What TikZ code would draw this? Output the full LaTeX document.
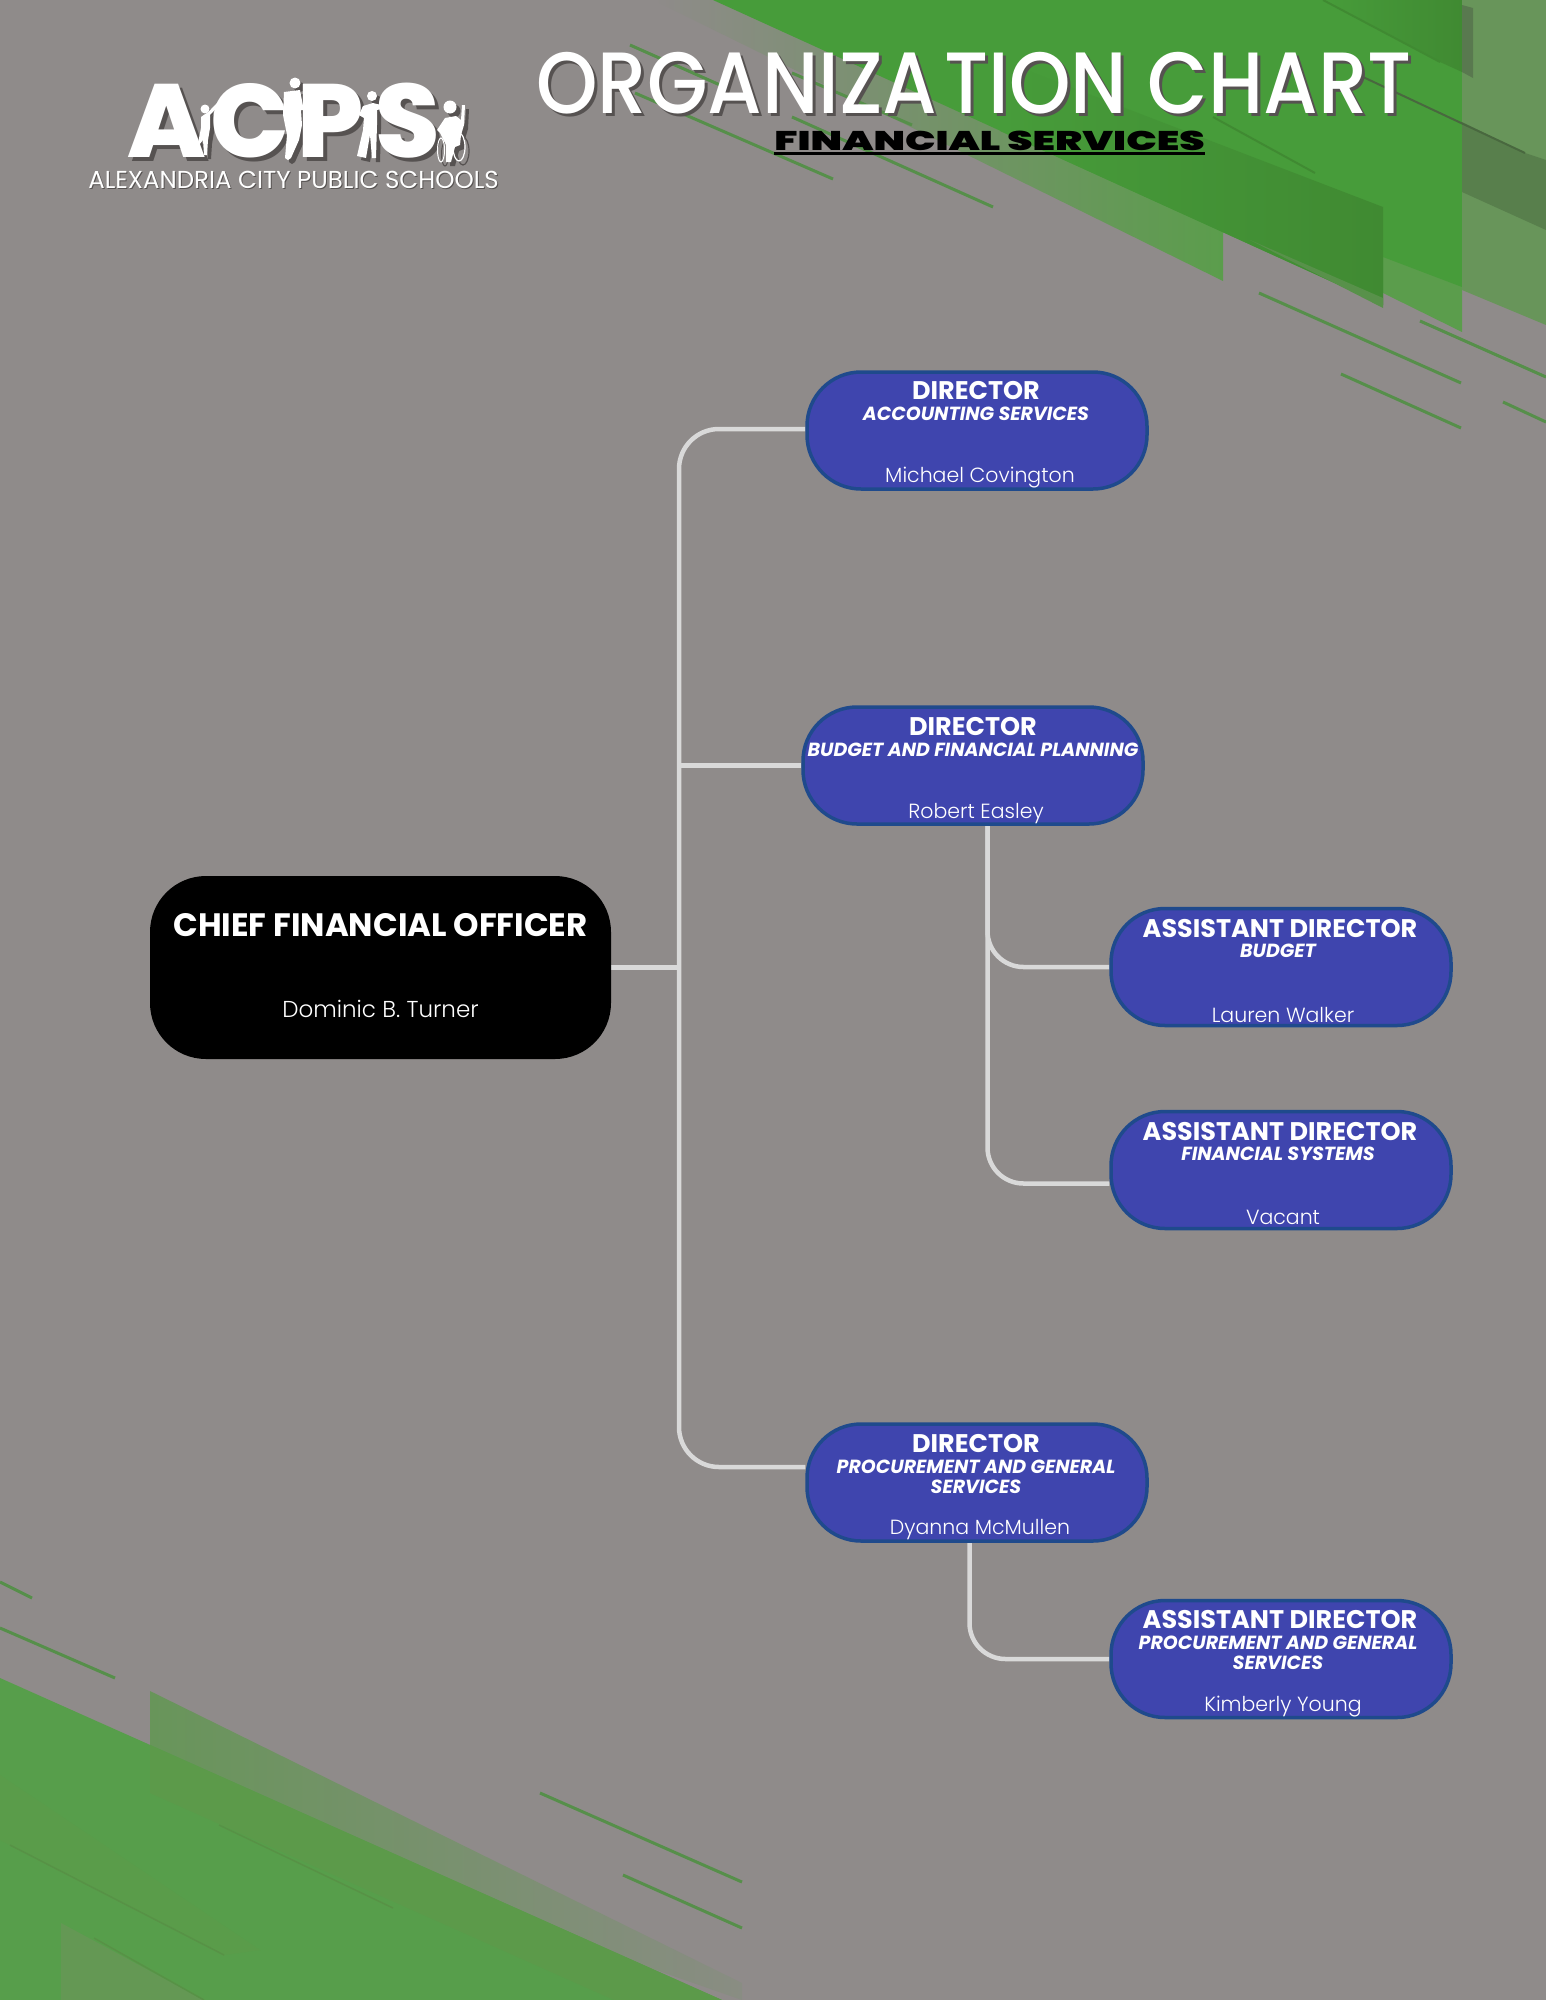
\documentclass[tikz,border=0pt]{standalone}
\usepackage{fontspec}
\setmainfont{Poppins}
\newfontfamily\poplight{Poppins Light}
\newfontfamily\popmedium{Poppins Medium}
\newfontfamily\popextra{Poppins ExtraBold}
\newfontfamily\popblack{Poppins Black}
\definecolor{pagegrey}{HTML}{8F8B8A}
\definecolor{maingreen}{HTML}{479C3A}
\definecolor{darkgreen}{HTML}{408A32}
\definecolor{lightgreen}{HTML}{5B9D4C}
\definecolor{panegreen}{HTML}{68955A}
\definecolor{lowgreen}{HTML}{579E4B}
\definecolor{lowdark}{HTML}{5C9A4A}
\definecolor{linegreen}{HTML}{568F4A}
\definecolor{boxblue}{HTML}{3F45AE}
\definecolor{boxedge}{HTML}{1F4A8C}
\definecolor{connline}{HTML}{D9D9D9}
\definecolor{logoshade}{HTML}{565251}
\pgfdeclarelayer{decor}
\pgfdeclarelayer{links}
\pgfsetlayers{decor,links,main}
\tikzset{
	bluebox/.style={draw=boxedge, line width=3.5pt, fill=boxblue, rounded corners=54pt, minimum width=340pt, minimum height=117pt, inner sep=0pt},
	blackbox/.style={fill=black, rounded corners=56pt, minimum width=461pt, minimum height=183pt, inner sep=0pt},
	conn/.style={draw=connline, line width=4.5pt},
	stripe/.style={draw=linegreen, line width=3pt},
	titletxt/.style={text=white, font=\fontsize{25.5}{29}\selectfont\bfseries, inner sep=0pt},
	subtxt/.style={text=white, font=\fontsize{19}{22}\selectfont\bfseries\itshape, inner sep=0pt},
	nametxt/.style={text=white, font=\fontsize{20.5}{25}\selectfont\poplight, inner sep=0pt},
	bigtxt/.style={anchor=base west, inner sep=0pt, font=\fontsize{87}{90}\selectfont\popmedium},
	logotxt/.style={anchor=base, inner sep=0pt, font=\fontsize{104}{104}\selectfont\popextra},
}
\begin{document}
\begin{tikzpicture}[x=1pt, y=-1pt]
	\useasboundingbox (0,0) rectangle (1546,2000);
	\begin{pgfonlayer}{decor}
		\fill[pagegrey] (0,0) rectangle (1546,2000);

		\shade[left color=pagegrey, right color=lightgreen, middle color=panegreen!70!pagegrey] (653,0) -- (1223,281) -- (1223,100) -- (1000,0) -- cycle;
		\fill[lightgreen] (1383,293) -- (1462,332) -- (1462,0) -- (1383,0) -- cycle;
		\fill[maingreen] (713,0) -- (1383,305) -- (1383,257) -- (1462,287) -- (1462,0) -- cycle;
		\shade[left color=maingreen, right color=darkgreen] (1000,60) -- (1383,207) -- (1383,305) -- (1000,131) -- cycle;
		\fill[panegreen!60!darkgreen] (1383,308) -- (1383,298) -- (1250,240) -- cycle;
		\shade[left color=maingreen, right color=darkgreen] (1323,0) -- (1440,62) -- (1462,72) -- (1462,0) -- cycle;
		\fill[panegreen] (1462,0) -- (1546,0) -- (1546,325) -- (1462,290) -- cycle;
		\fill[panegreen!85!black] (1462,122) -- (1525,153) -- (1546,160) -- (1546,230) -- (1462,192) -- cycle;
		\fill[panegreen!80!black!90!pagegrey] (1462,5) -- (1473,8) -- (1473,78) -- (1462,72) -- cycle;
		\draw[darkgreen, line width=2pt] (1213,117) -- (1315,173);
		\draw[darkgreen, line width=2pt] (1323,0) -- (1440,62);
		\draw[panegreen!70!black, line width=2pt] (1363,77) -- (1525,153);

		\draw[stripe] (630,45) -- (720,85);
		\draw[stripe] (635,93) -- (833,179);
		\draw[stripe] (792,73) -- (912,125);
		\draw[stripe] (792,117) -- (993,207);
		\draw[stripe] (1259,293) -- (1461,383);
		\draw[stripe] (1341,374) -- (1461,428);
		\draw[stripe] (1420,321) -- (1546,377);
		\draw[stripe] (1503,402) -- (1546,422);

		\shade[left color=panegreen, right color=pagegrey!85!panegreen] (150,1691) -- (742,1983) -- (742,2000) -- (150,1793) -- cycle;
		\fill[lowgreen] (0,1678) -- (722,2000) -- (0,2000) -- cycle;
		\fill[lowdark] (150,1745) -- (722,2000) -- (614,2000) -- (150,1793) -- cycle;
		\fill[lowdark!60!lowgreen] (0,1775) -- (260,1950) -- (224,1955) -- (10,1845) -- (0,1840) -- cycle;
		\fill[lowdark!85!pagegrey] (61,1923) -- (204,2000) -- (61,2000) -- cycle;
		\draw[stripe] (0,1582) -- (32,1598);
		\draw[stripe] (0,1628) -- (115,1678);
		\draw[stripe] (540,1793) -- (742,1882);
		\draw[stripe] (623,1875) -- (742,1928);
		\draw[lowdark!95!black, line width=1.5pt] (219,1825) -- (393,1908);
		\draw[lowdark!95!black, line width=1.5pt] (10,1845) -- (224,1955);
		\draw[lowdark!95!black, line width=1.5pt] (94,1938) -- (204,2000);
	\end{pgfonlayer}

	\foreach \sx/\sy/\col/\tag in {4/4/logoshade/s, 0/0/white/w} {
		\begin{scope}[xshift=\sx, yshift=-\sy]
			\node[logotxt, text=\col] (logo-a-\tag) at (167,157) {A};
			\node[logotxt, text=\col] (logo-c-\tag) at (250,157) {C};
			\node[logotxt, text=\col] (logo-p-\tag) at (331,157) {P};
			\node[logotxt, text=\col] (logo-s-\tag) at (408,157) {S};
			\fill[\col] (205,109) circle (4.5);
			\fill[\col] (221,103) -- (210,115) -- (210,128) -- (208,140) -- (207,155) -- (204,155) -- (203,140) -- (199,145) -- (198,143) -- (201,128) -- (201,117) -- (208,112) -- (219,101) -- cycle;
			\fill[\col] (295,83) circle (5.5);
			\fill[\col] (284,92) -- (300,90) -- (303,106) -- (310,108) -- (310,110) -- (301,110) -- (302,125) -- (299,140) -- (291,158) -- (288,160) -- (285,158) -- (287,135) -- (283,115) -- cycle;
			\fill[\col] (372,96) circle (5);
			\fill[\col] (363,106) -- (373,103) -- (385,106) -- (385,108) -- (377,110) -- (377,125) -- (376,158) -- (372,158) -- (370,135) -- (366,158) -- (357,156) -- (363,130) -- (364,118) -- (359,115) -- cycle;
			\fill[\col] (450,107) circle (6.5);
			\fill[\col] (437,130) -- (445,118) -- (456,116) -- (461,120) -- (462,105) -- (465,105) -- (464,125) -- (461,135) -- (460,145) -- (455,147) -- (451,162) -- (446,162) -- (446,145) -- (440,133) -- cycle;
			\draw[\col, line width=1.2pt] (459,147) ellipse (6 and 14);
			\draw[\col, line width=1pt] (441,150) ellipse (3.5 and 12);
		\end{scope}
	}
	\node[anchor=base, inner sep=0pt, text=logoshade, font=\fontsize{24.5}{28}\selectfont] (district-s) at (294.5,189.5) {ALEXANDRIA CITY PUBLIC SCHOOLS};
	\node[anchor=base, inner sep=0pt, text=white, font=\fontsize{24.5}{28}\selectfont] (district) at (293.5,188.5) {ALEXANDRIA CITY PUBLIC SCHOOLS};

	\node[bigtxt, text=logoshade] (chart-s) at (539,116) {\scalebox{.9}[1]{ORGANIZA\kern8pt TION CHART}};
	\node[bigtxt, text=white] (chart) at (536,113) {\scalebox{.9}[1]{ORGANIZA\kern8pt TION CHART}};
	\node[inner xsep=0pt, inner ysep=3pt, anchor=base, font=\fontsize{27}{30}\selectfont\popblack] (dept) at (989.5,150) {\scalebox{1.5}[1]{FINANCIAL SERVICES}};
	\draw[black, line width=2.5pt] (dept.south west) -- (dept.south east);

	\node[blackbox] (cfo) at (380.5,967.5) {};
	\node[bluebox] (acct) at (977,430.5) {};
	\node[bluebox] (budget) at (973,765.5) {};
	\node[bluebox] (abudget) at (1281,967) {};
	\node[bluebox] (asystems) at (1281,1170) {};
	\node[bluebox] (proc) at (977,1482.5) {};
	\node[bluebox] (aproc) at (1281,1659) {};

	\coordinate (trunktop) at (679,429);
	\coordinate (trunkbot) at (679,1467);
	\begin{pgfonlayer}{links}
		\draw[conn, rounded corners=40pt] (trunktop -| acct.west) -- (trunktop) -- (trunkbot) -- (trunkbot -| proc.west);
		\draw[conn] (budget.west) -- (budget.west -| trunktop);
		\draw[conn] (cfo.east) -- (cfo.east -| trunktop);
		\draw[conn, rounded corners=36pt] ([xshift=14.5pt]budget.south) |- (abudget.west);
		\draw[conn, rounded corners=36pt] ([xshift=14.5pt]budget.south) |- ([yshift=-13.5pt]asystems.west);
		\draw[conn, rounded corners=36pt] ([xshift=-7.5pt]proc.south) |- (aproc.west);
	\end{pgfonlayer}

	\node[titletxt, font=\fontsize{32.4}{36}\selectfont\bfseries] (cfo-title) at (380.5,925) {CHIEF FINANCIAL OFFICER};
	\node[nametxt, font=\fontsize{23}{27}\selectfont\poplight] (cfo-name) at (380.5,1009) {Dominic B. Turner};

	\node[titletxt] (acct-title) at (976,391) {DIRECTOR};
	\node[subtxt] (acct-sub) at (976,414) {ACCOUNTING SERVICES};
	\node[nametxt] (acct-name) at (980,478) {Michael Covington};

	\node[titletxt] (budget-title) at (973,727) {DIRECTOR};
	\node[subtxt] (budget-sub) at (973,750) {BUDGET AND FINANCIAL PLANNING};
	\node[nametxt] (budget-name) at (976,814) {Robert Easley};

	\node[titletxt] (abudget-title) at (1280,928) {ASSISTANT DIRECTOR};
	\node[subtxt] (abudget-sub) at (1278,951) {BUDGET};
	\node[nametxt] (abudget-name) at (1283,1014.5) {Lauren Walker};

	\node[titletxt] (asystems-title) at (1280,1131) {ASSISTANT DIRECTOR};
	\node[subtxt] (asystems-sub) at (1278,1154) {FINANCIAL SYSTEMS};
	\node[nametxt] (asystems-name) at (1283,1217.5) {Vacant};

	\node[titletxt] (proc-title) at (976,1443.5) {DIRECTOR};
	\node[subtxt] (proc-sub) at (976,1466.5) {PROCUREMENT AND GENERAL};
	\node[subtxt] (proc-sub2) at (976,1486.5) {SERVICES};
	\node[nametxt] (proc-name) at (980,1530) {Dyanna McMullen};

	\node[titletxt] (aproc-title) at (1280,1619.5) {ASSISTANT DIRECTOR};
	\node[subtxt] (aproc-sub) at (1278,1642.5) {PROCUREMENT AND GENERAL};
	\node[subtxt] (aproc-sub2) at (1278,1662.5) {SERVICES};
	\node[nametxt] (aproc-name) at (1283,1706.5) {Kimberly Young};
\end{tikzpicture}
\end{document}
